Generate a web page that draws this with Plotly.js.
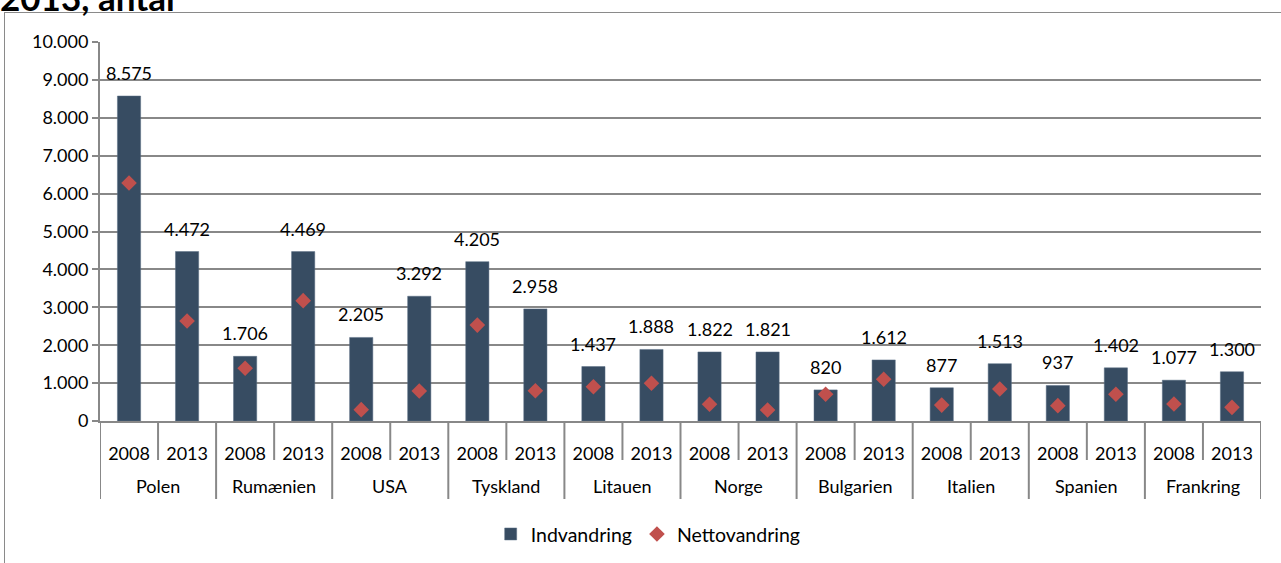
<!DOCTYPE html>
<html>
<head>
<meta charset="utf-8">
<script src="https://cdn.plot.ly/plotly-3.0.1.min.js"></script>
<style>
html,body{margin:0;padding:0;background:#fff;}
#wrap{position:relative;width:1281px;height:563px;overflow:hidden;}
#chart{position:absolute;left:0;top:0;width:1281px;height:563px;}
#frame{position:absolute;left:4px;top:12px;width:1290px;height:600px;border:1px solid #8a8a8a;pointer-events:none;}
</style>
</head>
<body>
<div id="wrap"><div id="frame"></div><div id="chart"></div></div>
<script>
const countries = ["Polen","Rumænien","USA","Tyskland","Litauen","Norge","Bulgarien","Italien","Spanien","Frankring"];
const years = ["2008","2013"];
const indvandring = [8575,4472,1706,4469,2205,3292,4205,2958,1437,1888,1822,1821,820,1612,877,1513,937,1402,1077,1300];
const nettovandring = [6280,2640,1390,3175,300,790,2530,800,905,995,440,290,705,1100,420,845,405,705,450,360];

const cats = [];
const yearLabels = [];
countries.forEach(c => years.forEach(y => { cats.push(c + " " + y); yearLabels.push(y); }));

const FONT = "Lato, 'Open Sans', sans-serif";
const GRAY = "#888888";

const traces = [
  {type:"bar", name:"Indvandring", x:cats, y:indvandring,
   marker:{color:"#374C62", line:{color:"#5b6f84", width:0.5}},
   width:0.4, hoverinfo:"y"},
  {type:"scatter", mode:"markers", name:"Nettovandring", x:cats, y:nettovandring,
   marker:{symbol:"diamond", size:12, color:"#C0504D"}, hoverinfo:"y"}
];

const annotations = [];
cats.forEach((c,i) => {
  annotations.push({x:c, y:indvandring[i], xref:"x", yref:"y",
    text: indvandring[i].toLocaleString("da-DK"), showarrow:false,
    yshift:23, font:{family:FONT, size:18, color:"#000"}});
});
countries.forEach((c,k) => {
  annotations.push({x:2*k+0.5, y:0, xref:"x", yref:"paper", yanchor:"middle",
    text:c, showarrow:false, yshift:-65, font:{family:FONT, size:18, color:"#000"}});
});

const shapes = [];
for (let k=0;k<countries.length;k++){
  shapes.push({type:"line", xref:"x", yref:"paper", ysizemode:"pixel", yanchor:0,
    x0:2*k+0.5, x1:2*k+0.5, y0:0, y1:-39, line:{color:GRAY, width:2}});
}
for (let k=0;k<=countries.length;k++){
  shapes.push({type:"line", xref:"x", yref:"paper", ysizemode:"pixel", yanchor:0,
    x0:2*k-0.5, x1:2*k-0.5, y0:0, y1:-78, line:{color:GRAY, width:2}});
}

const layout = {
  width:1281, height:563,
  margin:{l:100, r:20, t:42, b:142},
  paper_bgcolor:"rgba(0,0,0,0)", plot_bgcolor:"rgba(0,0,0,0)",
  separators:",.",
  font:{family:FONT, size:18, color:"#000"},
  title:{text:"<b>2013, antal</b>", x:0, xref:"container", xanchor:"left",
         y:0.981, yref:"container", yanchor:"bottom",
         font:{family:FONT, size:35, color:"#000"}},
  showlegend:true,
  legend:{orientation:"h", xref:"container", yref:"container", x:0.506, xanchor:"center",
          y:0.051, yanchor:"middle", font:{family:FONT, size:19.5, color:"#000"},
          itemwidth:30, traceorder:"normal"},
  bargap:0.6,
  xaxis:{type:"category", categoryorder:"array", categoryarray:cats,
         tickvals:cats, ticktext:yearLabels, ticks:"", showgrid:false,
         showline:true, linecolor:GRAY, linewidth:2, ticklabelstandoff:15,
         tickfont:{family:FONT, size:18}, range:[-0.5,19.5], zeroline:false, fixedrange:true},
  yaxis:{range:[0,10000], dtick:1000, tickformat:",d", showgrid:true, gridcolor:GRAY, gridwidth:2,
         showline:true, linecolor:GRAY, linewidth:2, ticks:"outside", ticklen:6, tickcolor:GRAY, tickwidth:2,
         tickfont:{family:FONT, size:18}, zeroline:false, fixedrange:true},
  annotations:annotations, shapes:shapes
};

Plotly.newPlot("chart", traces, layout, {displayModeBar:false, staticPlot:true});
</script>
</body>
</html>
